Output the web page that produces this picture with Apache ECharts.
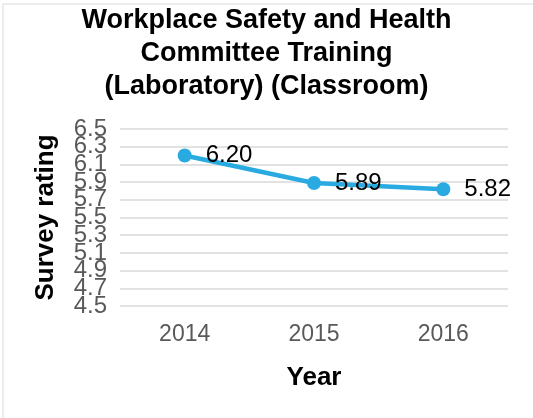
<!DOCTYPE html>
<html>
<head>
<meta charset="utf-8">
<script src="https://cdn.jsdelivr.net/npm/echarts@6/dist/echarts.min.js"></script>
<style>
  html, body { margin: 0; padding: 0; background: #fff; }
  #chart { width: 533px; height: 418px; }
</style>
</head>
<body>
<div id="chart"></div>
<script>
  // data
  let years = ['2014', '2015', '2016'];
  let ratings = [6.20, 5.89, 5.82];
  let yTicks = [4.5, 4.7, 4.9, 5.1, 5.3, 5.5, 5.7, 5.9, 6.1, 6.3, 6.5];

  let chart = echarts.init(document.getElementById('chart'));
  let font = '"Liberation Sans", Arial, sans-serif';
  let yMin = yTicks[0];
  let yMax = yTicks[yTicks.length - 1];

  let yLabel = {
    color: '#595959', fontSize: 24, margin: 13, fontFamily: font,
    formatter: function (v) { return v.toFixed(1); }
  };

  let option = {
    backgroundColor: '#fff',
    textStyle: { fontFamily: font },
    title: {
      text: 'Workplace Safety and Health\nCommittee Training\n(Laboratory) (Classroom)',
      left: 'center',
      top: -1,
      textStyle: { fontFamily: font, fontSize: 27, fontWeight: 'bold', color: '#000', lineHeight: 33 }
    },
    graphic: [{
      type: 'rect',
      shape: { x: 3, y: 4, width: 560, height: 440 },
      style: { fill: 'none', stroke: '#d9d9d9', lineWidth: 1 },
      silent: true
    }],
    grid: { left: 120, right: 25, top: 129, bottom: 112 },
    xAxis: {
      type: 'category',
      data: years,
      boundaryGap: true,
      axisLine: { show: false },
      axisTick: { show: false },
      axisLabel: { color: '#595959', fontSize: 23, margin: 17, fontFamily: font },
      name: 'Year',
      nameLocation: 'middle',
      nameGap: 59,
      nameTextStyle: { color: '#000', fontSize: 26, fontWeight: 'bold', fontFamily: font }
    },
    yAxis: [{
      // inner ticks 4.7 .. 6.3 (overlapping labels, like the original)
      type: 'value',
      position: 'left',
      min: yMin,
      max: yMax,
      interval: 0.2,
      axisLine: { show: false },
      axisTick: { show: false },
      splitLine: { lineStyle: { color: '#d9d9d9', width: 1.5 } },
      axisLabel: Object.assign({ showMinLabel: false, showMaxLabel: false }, yLabel),
      name: 'Survey rating',
      nameLocation: 'middle',
      nameGap: 61,
      nameTextStyle: { color: '#000', fontSize: 26, fontWeight: 'bold', fontFamily: font }
    }, {
      // end ticks 4.5 and 6.5
      type: 'value',
      position: 'left',
      min: yMin,
      max: yMax,
      interval: yMax - yMin,
      axisLine: { show: false },
      axisTick: { show: false },
      splitLine: { show: false },
      axisLabel: yLabel
    }],
    series: [{
      type: 'line',
      yAxisIndex: 0,
      data: ratings,
      symbol: 'circle',
      symbolSize: 14,
      lineStyle: { color: '#29abe2', width: 4.5 },
      itemStyle: { color: '#29abe2' },
      label: {
        show: true,
        position: 'right',
        distance: 14,
        color: '#000',
        fontSize: 24,
        fontFamily: font,
        formatter: function (p) { return p.value.toFixed(2); }
      }
    }]
  };

  chart.setOption(option);
</script>
</body>
</html>
